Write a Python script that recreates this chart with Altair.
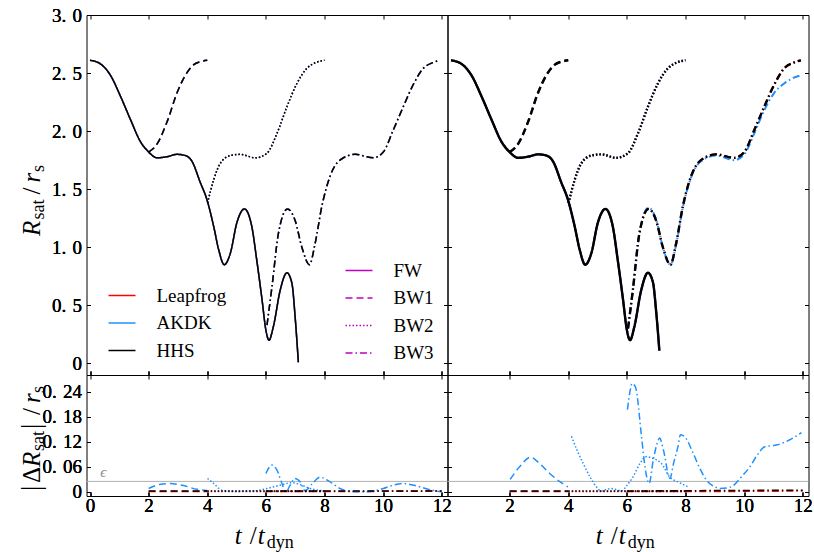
import altair as alt
import pandas as pd

FONT = "Liberation Serif"

# ---------------- categories / styles ----------------
INTEG = ["Leapfrog", "AKDK", "HHS"]
COLORS = ["#ff0000", "#1e90ff", "#000000"]
RUNS = ["FW", "BW1", "BW2", "BW3"]
DASHES = [[1, 0], [7, 4], [1.5, 2], [7, 3, 1.5, 3]]
LEGEND_DASH_COLOR = "#bf00bf"

X_TICKS_LEFT = [0, 2, 4, 6, 8, 10, 12]
X_TICKS_RIGHT = [2, 4, 6, 8, 10, 12]
Y_TICKS_TOP = [0, 0.5, 1.0, 1.5, 2.0, 2.5, 3.0]
Y_TICKS_BOT = [0, 0.06, 0.12, 0.18, 0.24]
EPSILON = [0.025]
EPS_LABEL_T = [0.45]
EPS_LABEL_V = [0.047]

# ---------------- R_sat / r_s (top panels) ----------------
T_FW = [0.0, 0.35, 0.70, 1.04, 1.38, 1.72, 2.0, 2.29, 2.63, 2.97, 3.25, 3.48, 3.76, 3.99,
        4.22, 4.39, 4.58, 4.79, 5.01, 5.27, 5.52, 5.69, 5.87, 6.0, 6.11, 6.26, 6.49, 6.72,
        6.89, 7.0, 7.11]
R_FW = [2.61, 2.58, 2.48, 2.30, 2.10, 1.91, 1.82, 1.77, 1.78, 1.80, 1.79, 1.74, 1.56, 1.41,
        1.18, 0.98, 0.85, 0.95, 1.21, 1.33, 1.18, 0.89, 0.55, 0.29, 0.20, 0.32, 0.63, 0.78,
        0.69, 0.40, 0.01]
R_FW_RIGHT = [2.61, 2.58, 2.48, 2.30, 2.10, 1.91, 1.82, 1.77, 1.78, 1.80, 1.79, 1.74, 1.56, 1.41,
              1.18, 0.98, 0.85, 0.95, 1.21, 1.33, 1.18, 0.89, 0.55, 0.29, 0.20, 0.32, 0.63, 0.78,
              0.70, 0.45, 0.11]

T_BW1 = [2.0, 2.29, 2.63, 2.97, 3.25, 3.53, 3.8, 4.0]
R_BW1 = [1.82, 1.89, 2.08, 2.33, 2.48, 2.57, 2.60, 2.61]

T_BW2 = [4.01, 4.22, 4.44, 4.79, 5.13, 5.64, 6.04, 6.38, 6.72, 7.06, 7.40, 7.7, 8.0]
R_BW2 = [1.38, 1.58, 1.72, 1.79, 1.80, 1.77, 1.81, 1.98, 2.21, 2.41, 2.54, 2.59, 2.61]

T_BW3 = [6.04, 6.21, 6.43, 6.74, 7.0, 7.23, 7.49, 7.68, 7.91, 8.19, 8.53, 9.05, 9.67, 10.01,
         10.35, 10.69, 11.03, 11.37, 11.7, 11.94]
R_BW3 = [0.33, 0.66, 1.12, 1.33, 1.23, 1.0, 0.85, 1.03, 1.35, 1.61, 1.75, 1.80, 1.77, 1.82,
         2.01, 2.21, 2.40, 2.54, 2.59, 2.61]
R_BW3_RIGHT = [0.30, 0.64, 1.12, 1.33, 1.23, 1.0, 0.85, 1.03, 1.35, 1.61, 1.75, 1.80, 1.77, 1.82,
               2.01, 2.21, 2.40, 2.54, 2.59, 2.61]
R_BW3_AKDK_RIGHT = [0.30, 0.64, 1.12, 1.34, 1.24, 1.0, 0.85, 1.02, 1.34, 1.60, 1.74, 1.79, 1.75, 1.80,
                    1.98, 2.18, 2.33, 2.41, 2.46, 2.48]

# ---------------- |Delta R_sat| / r_s (bottom panels) ----------------
# AKDK, left panel
DT_BW1_L = [2.0, 2.4, 2.74, 3.19, 3.65, 4.0]
DA_BW1_L = [0.008, 0.018, 0.020, 0.015, 0.006, 0.003]
DT_BW2_L = [4.01, 4.22, 4.5, 4.9, 5.58, 6.04, 6.49, 6.89, 7.23, 7.51, 7.91, 8.05]
DA_BW2_L = [0.032, 0.020, 0.004, 0.001, 0.002, 0.008, 0.016, 0.022, 0.016, 0.008, 0.003, 0.002]
DT_BW3_L = [6.0, 6.21, 6.38, 6.55, 6.69, 6.83, 7.0, 7.17, 7.34, 7.57, 7.85, 8.19, 8.53, 8.88,
            9.45, 10.01, 10.35, 10.69, 11.15, 11.6, 12.0]
DA_BW3_L = [0.044, 0.064, 0.052, 0.020, 0.0, 0.016, 0.032, 0.024, 0.003, 0.018, 0.035, 0.024,
            0.008, 0.001, 0.0, 0.008, 0.016, 0.020, 0.014, 0.005, 0.0]
# AKDK, right panel
DT_BW1_R = [2.02, 2.34, 2.71, 3.02, 3.37, 3.7, 3.99]
DA_BW1_R = [0.030, 0.060, 0.083, 0.068, 0.044, 0.025, 0.012]
DT_BW2_R = [4.11, 4.3, 4.51, 4.75, 4.96, 5.12, 5.3, 5.47, 5.65, 5.81, 6.0, 6.21, 6.45, 6.64,
            6.9, 7.18, 7.46, 7.8, 8.09]
DA_BW2_R = [0.133, 0.10, 0.068, 0.035, 0.012, 0.002, 0.006, 0.008, 0.005, 0.002, 0.015, 0.036,
            0.068, 0.084, 0.080, 0.068, 0.036, 0.022, 0.012]
DT_BW3_R = [6.02, 6.12, 6.18, 6.3, 6.5, 6.62, 6.76, 6.9, 7.05, 7.12, 7.25, 7.47, 7.6, 7.75,
            7.83, 8.0, 8.26, 8.5, 8.72, 9.0, 9.17, 9.4, 9.63, 9.9, 10.2, 10.45, 10.71, 11.11,
            11.57, 11.96]
DA_BW3_R = [0.197, 0.245, 0.26, 0.25, 0.133, 0.06, 0.020, 0.075, 0.12, 0.129, 0.10, 0.032,
            0.07, 0.11, 0.137, 0.13, 0.093, 0.055, 0.028, 0.012, 0.008, 0.009, 0.015, 0.035,
            0.06, 0.088, 0.108, 0.112, 0.125, 0.142]
# Leapfrog and HHS (close to zero)
DT_BW1_0 = [2.0, 3.0, 4.0]
DT_BW2_0 = [4.0, 6.0, 8.0]
DT_BW3_0 = [6.0, 9.0, 12.0]
DL_BW1 = [0.001, 0.001, 0.001]
DL_BW2 = [0.001, 0.001, 0.001]
DL_BW3 = [0.001, 0.001, 0.002]
DH_BW1 = [0.002, 0.002, 0.002]
DH_BW2 = [0.002, 0.002, 0.002]
DH_BW3_L = [0.002, 0.002, 0.002]
DH_BW3_R = [0.002, 0.003, 0.004]

# ---------------- build table ----------------
rows = []


def add(panel, integ, run, ts, vs):
    for t, v in zip(ts, vs):
        rows.append({"panel": panel, "integ": integ, "run": run, "t": t, "v": v})


for ig in INTEG:
    add("TL", ig, "FW", T_FW, R_FW)
    add("TL", ig, "BW1", T_BW1, R_BW1)
    add("TL", ig, "BW2", T_BW2, R_BW2)
    add("TL", ig, "BW3", T_BW3, R_BW3)
    add("TR", ig, "FW", T_FW, R_FW_RIGHT)
    add("TR", ig, "BW1", T_BW1, R_BW1)
    add("TR", ig, "BW2", T_BW2, R_BW2)
    add("TR", ig, "BW3", T_BW3, R_BW3_AKDK_RIGHT if ig == "AKDK" else R_BW3_RIGHT)

add("BL", "Leapfrog", "BW1", DT_BW1_0, DL_BW1)
add("BL", "Leapfrog", "BW2", DT_BW2_0, DL_BW2)
add("BL", "Leapfrog", "BW3", DT_BW3_0, DL_BW3)
add("BL", "AKDK", "BW1", DT_BW1_L, DA_BW1_L)
add("BL", "AKDK", "BW2", DT_BW2_L, DA_BW2_L)
add("BL", "AKDK", "BW3", DT_BW3_L, DA_BW3_L)
add("BL", "HHS", "BW1", DT_BW1_0, DH_BW1)
add("BL", "HHS", "BW2", DT_BW2_0, DH_BW2)
add("BL", "HHS", "BW3", DT_BW3_0, DH_BW3_L)

add("BR", "Leapfrog", "BW1", DT_BW1_0, DL_BW1)
add("BR", "Leapfrog", "BW2", DT_BW2_0, DL_BW2)
add("BR", "Leapfrog", "BW3", DT_BW3_0, DL_BW3)
add("BR", "AKDK", "BW1", DT_BW1_R, DA_BW1_R)
add("BR", "AKDK", "BW2", DT_BW2_R, DA_BW2_R)
add("BR", "AKDK", "BW3", DT_BW3_R, DA_BW3_R)
add("BR", "HHS", "BW1", DT_BW1_0, DH_BW1)
add("BR", "HHS", "BW2", DT_BW2_0, DH_BW2)
add("BR", "HHS", "BW3", DT_BW3_0, DH_BW3_R)

df = pd.DataFrame(rows)
eps_df = pd.DataFrame({"v": EPSILON})
eps_lab = pd.DataFrame({"t": EPS_LABEL_T, "v": EPS_LABEL_V, "s": ["\u03f5"]})
one = pd.DataFrame({"k": [0]})

# ---------------- scales, axes, legends ----------------
W, H_TOP, H_BOT = 361, 360, 121
XS = alt.Scale(domain=[-0.12, 12.2], nice=False, zero=False)
YS_TOP = alt.Scale(domain=[-0.1, 3.0], nice=False, zero=False)
YS_BOT = alt.Scale(domain=[-0.01, 0.28], nice=False, zero=False)
COLOR_SCALE = alt.Scale(domain=INTEG, range=COLORS)
DASH_SCALE = alt.Scale(domain=RUNS, range=DASHES)
TICK = alt.ExprRef(expr="-4")


def make_axis(orient, values, labels, fmt_expr=None):
    kw = dict(orient=orient, values=values, title=None, tickSize=TICK, tickColor="black",
              tickWidth=1, domain=False, grid=False, labels=labels)
    if labels:
        kw.update(labelFont=FONT, labelFontSize=19, labelColor="black", labelFlush=False,
                  labelOverlap=False)
        if orient in ("bottom", "top"):
            kw.update(labelPadding=4, format="d")
        else:
            kw.update(labelPadding=9)
        if fmt_expr:
            kw.update(labelExpr=fmt_expr)
    return alt.Axis(**kw)


EXPR_TOP = "datum.value == 0 ? '0' : replace(format(datum.value, '.1f'), '.', '.\u2004')"
EXPR_BOT = "datum.value == 0 ? '0' : replace(format(datum.value, '.2f'), '.', '.\u2004')"

LEG_C = alt.Legend(title=None, orient="none", legendX=21, legendY=266, symbolType="stroke",
                   symbolSize=729, symbolStrokeWidth=1.5, labelFont=FONT, labelFontSize=19,
                   labelColor="black", labelOffset=20, rowPadding=2.5, padding=0)
LEG_D = alt.Legend(title=None, orient="none", legendX=258, legendY=241, symbolType="stroke",
                   symbolSize=729, symbolStrokeWidth=1.5, symbolStrokeColor=LEGEND_DASH_COLOR,
                   labelFont=FONT, labelFontSize=19, labelColor="black", labelOffset=20,
                   rowPadding=2.5, padding=0)


def txt(s, x, y, size, italic=False, angle=0):
    return alt.Chart(one).mark_text(
        text=s, font=FONT, fontSize=size, fontStyle="italic" if italic else "normal",
        align="left", baseline="alphabetic", angle=angle, color="black"
    ).encode(x=alt.value(x), y=alt.value(y))


def panel(key, ys, yvals, ylabels, yexpr, xvals, xlabels, widths, legend_on, height, extras):
    d = df[df.panel == key]
    layers = []
    for ig, sw in zip(INTEG, widths):
        dd = d[d.integ == ig]
        layers.append(
            alt.Chart(dd).mark_line(strokeWidth=sw, interpolate="monotone").encode(
                x=alt.X("t:Q", scale=XS, axis=make_axis("bottom", xvals, xlabels)),
                y=alt.Y("v:Q", scale=ys, axis=make_axis("left", yvals, ylabels, yexpr)),
                color=alt.Color("integ:N", scale=COLOR_SCALE, legend=LEG_C if legend_on else None),
                strokeDash=alt.StrokeDash("run:N", scale=DASH_SCALE,
                                          legend=LEG_D if legend_on else None),
            )
        )
    # opposite-side axes (ticks only)
    layers.append(
        alt.Chart(d).mark_line(opacity=0).encode(
            x=alt.X("t:Q", scale=XS, axis=make_axis("top", xvals, False)),
            y=alt.Y("v:Q", scale=ys, axis=make_axis("right", yvals, False)),
        )
    )
    layers = extras + layers
    return alt.layer(*layers).properties(width=W, height=height)


def eps_layers():
    rule = alt.Chart(eps_df).mark_rule(color="#b0b0b0", strokeWidth=1).encode(
        y=alt.Y("v:Q", scale=YS_BOT, axis=None))
    return [rule]


def eps_text():
    return alt.Chart(eps_lab).mark_text(font=FONT, fontSize=15, color="#909090", fontStyle="italic",
                                        align="center", baseline="middle").encode(
        x=alt.X("t:Q", scale=XS, axis=None), y=alt.Y("v:Q", scale=YS_BOT, axis=None), text="s:N")


# y-axis title pieces (top-left)
ytitle = [
    txt("R", -46.7, 221, 25, italic=True, angle=270),
    txt("sat", -42.7, 204.5, 18, angle=270),
    txt("/", -46.7, 179.5, 25, angle=270),
    txt("r", -46.7, 167.5, 25, italic=True, angle=270),
    txt("s", -42.7, 157, 18, angle=270),
]
ytitle_b = [
    txt("|", -46.7, 116, 27, angle=270),
    txt("\u0394", -46.7, 108, 25, angle=270),
    txt("R", -46.7, 92, 25, italic=True, angle=270),
    txt("sat", -42.7, 76, 18, angle=270),
    txt("|", -46.7, 54, 27, angle=270),
    txt("/", -46.7, 40, 25, angle=270),
    txt("r", -46.7, 28, 25, italic=True, angle=270),
    txt("s", -42.7, 18, 18, angle=270),
]


def xtitle():
    return [
        txt("t", 148.3, 169, 25, italic=True),
        txt("/", 163.3, 169, 25),
        txt("t", 171.3, 169, 25, italic=True),
        txt("dyn", 180.3, 173, 18),
    ]


tl = panel("TL", YS_TOP, Y_TICKS_TOP, True, EXPR_TOP, X_TICKS_LEFT, False,
           [1.5, 1.5, 1.5], True, H_TOP, ytitle)
tr = panel("TR", YS_TOP, Y_TICKS_TOP, False, None, X_TICKS_RIGHT, False,
           [2.0, 2.0, 2.4], False, H_TOP, [])
bl = panel("BL", YS_BOT, Y_TICKS_BOT, True, EXPR_BOT, X_TICKS_LEFT, True,
           [1.5, 1.5, 1.5], False, H_BOT, eps_layers() + [eps_text()] + ytitle_b + xtitle())
br = panel("BR", YS_BOT, Y_TICKS_BOT, False, None, X_TICKS_RIGHT, True,
           [1.5, 1.5, 1.5], False, H_BOT, eps_layers() + xtitle())

chart = alt.concat(tl, tr, bl, br, columns=2, spacing=0, bounds="flush", align="each").properties(
    padding={"left": 16.5, "top": 5, "right": 0, "bottom": 0}
).configure_view(stroke="black", strokeWidth=1).configure_axis(grid=False)

chart.save("out.html", embed_options={"renderer": "svg", "actions": False})
